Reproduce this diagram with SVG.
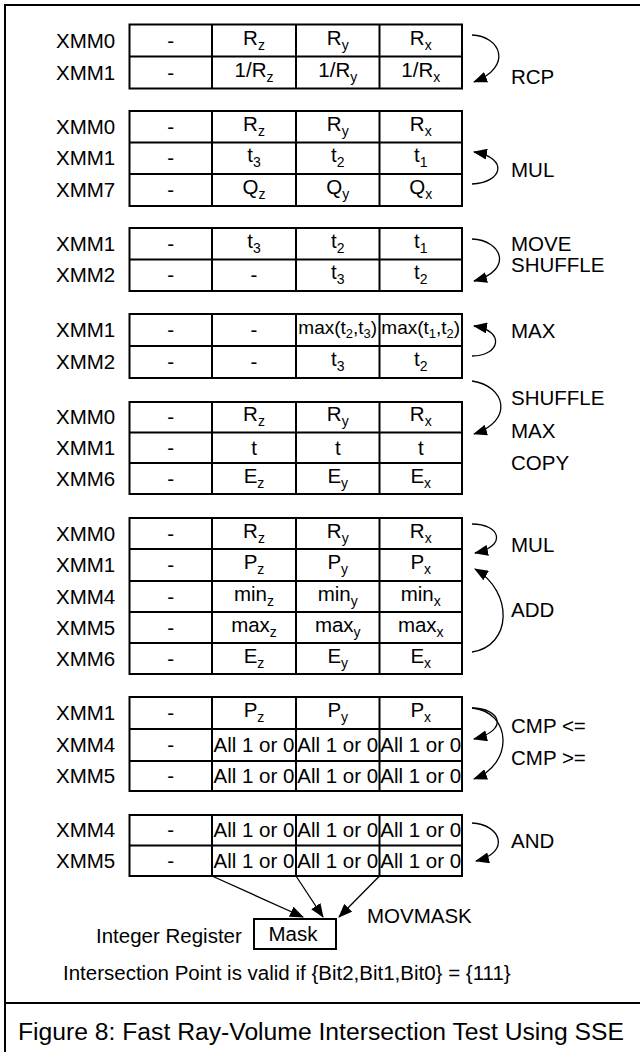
<svg xmlns="http://www.w3.org/2000/svg" width="640" height="1052" viewBox="0 0 640 1052">
<style>
text{font-family:"Liberation Sans",Arial,Helvetica,sans-serif;font-size:20.5px;fill:#000}
.c{text-anchor:middle}
.s{font-size:14px}
.m{font-size:19px}
.m .s{font-size:13px}
.tb{fill:none;stroke:#000;stroke-width:2}
.arc{fill:none;stroke:#000;stroke-width:1.3;marker-end:url(#ah)}
.cap{font-size:24.7px}
</style>
<defs>
<marker id="ah" viewBox="0 0 14 11" refX="13" refY="5.5" markerWidth="14" markerHeight="11" markerUnits="userSpaceOnUse" orient="auto"><path d="M0,0 L14,5.5 L0,11 z" fill="#000"/></marker>
</defs>
<path class="tb" d="M5,1052 V5 H640 M5,1003 H640"/>

<g id="block1">
<rect class="tb" x="129.5" y="24.5" width="332.5" height="64"/>
<path class="tb" d="M129.5,56.5 H462 M212,24.5 V88.5 M296,24.5 V88.5 M379.5,24.5 V88.5"/>
<text x="56" y="47.5">XMM0</text><text x="56" y="79.5">XMM1</text>
<text class="c" x="170.75" y="47.5">-</text>
<text class="c" x="254" y="44.5">R<tspan class="s" dy="5">z</tspan></text>
<text class="c" x="337.75" y="44.5">R<tspan class="s" dy="5">y</tspan></text>
<text class="c" x="420.75" y="44.5">R<tspan class="s" dy="5">x</tspan></text>
<text class="c" x="170.75" y="79.5">-</text>
<text class="c" x="254" y="76.5">1/R<tspan class="s" dy="5">z</tspan></text>
<text class="c" x="337.75" y="76.5">1/R<tspan class="s" dy="5">y</tspan></text>
<text class="c" x="420.75" y="76.5">1/R<tspan class="s" dy="5">x</tspan></text>
</g>

<g id="block2">
<rect class="tb" x="129.5" y="111" width="332.5" height="95"/>
<path class="tb" d="M129.5,142.5 H462 M129.5,174 H462 M212,111 V206 M296,111 V206 M379.5,111 V206"/>
<text x="56" y="133.75">XMM0</text><text x="56" y="165.25">XMM1</text><text x="56" y="197">XMM7</text>
<text class="c" x="170.75" y="133.75">-</text>
<text class="c" x="254" y="130.75">R<tspan class="s" dy="5">z</tspan></text>
<text class="c" x="337.75" y="130.75">R<tspan class="s" dy="5">y</tspan></text>
<text class="c" x="420.75" y="130.75">R<tspan class="s" dy="5">x</tspan></text>
<text class="c" x="170.75" y="165.25">-</text>
<text class="c" x="254" y="162.25">t<tspan class="s" dy="5">3</tspan></text>
<text class="c" x="337.75" y="162.25">t<tspan class="s" dy="5">2</tspan></text>
<text class="c" x="420.75" y="162.25">t<tspan class="s" dy="5">1</tspan></text>
<text class="c" x="170.75" y="197">-</text>
<text class="c" x="254" y="194">Q<tspan class="s" dy="5">z</tspan></text>
<text class="c" x="337.75" y="194">Q<tspan class="s" dy="5">y</tspan></text>
<text class="c" x="420.75" y="194">Q<tspan class="s" dy="5">x</tspan></text>
</g>

<g id="block3">
<rect class="tb" x="129.5" y="228" width="332.5" height="63"/>
<path class="tb" d="M129.5,259.5 H462 M212,228 V291 M296,228 V291 M379.5,228 V291"/>
<text x="56" y="250.75">XMM1</text><text x="56" y="282.25">XMM2</text>
<text class="c" x="170.75" y="250.75">-</text>
<text class="c" x="254" y="247.75">t<tspan class="s" dy="5">3</tspan></text>
<text class="c" x="337.75" y="247.75">t<tspan class="s" dy="5">2</tspan></text>
<text class="c" x="420.75" y="247.75">t<tspan class="s" dy="5">1</tspan></text>
<text class="c" x="170.75" y="282.25">-</text>
<text class="c" x="254" y="282.25">-</text>
<text class="c" x="337.75" y="279.25">t<tspan class="s" dy="5">3</tspan></text>
<text class="c" x="420.75" y="279.25">t<tspan class="s" dy="5">2</tspan></text>
</g>

<g id="block4">
<rect class="tb" x="129.5" y="314" width="332.5" height="64"/>
<path class="tb" d="M129.5,346 H462 M212,314 V378 M296,314 V378 M379.5,314 V378"/>
<text x="56" y="337">XMM1</text><text x="56" y="369">XMM2</text>
<text class="c" x="170.75" y="337">-</text>
<text class="c" x="254" y="337">-</text>
<text class="c m" x="337.75" y="334">max(t<tspan class="s" dy="4">2</tspan><tspan dy="-4">,t</tspan><tspan class="s" dy="4">3</tspan><tspan dy="-4">)</tspan></text>
<text class="c m" x="420.75" y="334">max(t<tspan class="s" dy="4">1</tspan><tspan dy="-4">,t</tspan><tspan class="s" dy="4">2</tspan><tspan dy="-4">)</tspan></text>
<text class="c" x="170.75" y="369">-</text>
<text class="c" x="254" y="369">-</text>
<text class="c" x="337.75" y="366">t<tspan class="s" dy="5">3</tspan></text>
<text class="c" x="420.75" y="366">t<tspan class="s" dy="5">2</tspan></text>
</g>

<g id="block5">
<rect class="tb" x="129.5" y="402" width="332.5" height="92"/>
<path class="tb" d="M129.5,432.5 H462 M129.5,463 H462 M212,402 V494 M296,402 V494 M379.5,402 V494"/>
<text x="56" y="424.25">XMM0</text><text x="56" y="454.75">XMM1</text><text x="56" y="485.5">XMM6</text>
<text class="c" x="170.75" y="424.25">-</text>
<text class="c" x="254" y="421.25">R<tspan class="s" dy="5">z</tspan></text>
<text class="c" x="337.75" y="421.25">R<tspan class="s" dy="5">y</tspan></text>
<text class="c" x="420.75" y="421.25">R<tspan class="s" dy="5">x</tspan></text>
<text class="c" x="170.75" y="454.75">-</text>
<text class="c" x="254" y="454.75">t</text>
<text class="c" x="337.75" y="454.75">t</text>
<text class="c" x="420.75" y="454.75">t</text>
<text class="c" x="170.75" y="485.5">-</text>
<text class="c" x="254" y="482.5">E<tspan class="s" dy="5">z</tspan></text>
<text class="c" x="337.75" y="482.5">E<tspan class="s" dy="5">y</tspan></text>
<text class="c" x="420.75" y="482.5">E<tspan class="s" dy="5">x</tspan></text>
</g>

<g id="block6">
<rect class="tb" x="129.5" y="518" width="332.5" height="156"/>
<path class="tb" d="M129.5,549 H462 M129.5,581 H462 M129.5,612 H462 M129.5,643 H462 M212,518 V674 M296,518 V674 M379.5,518 V674"/>
<text x="56" y="540.5">XMM0</text><text x="56" y="572">XMM1</text><text x="56" y="603.5">XMM4</text><text x="56" y="634.5">XMM5</text><text x="56" y="665.5">XMM6</text>
<text class="c" x="170.75" y="540.5">-</text>
<text class="c" x="254" y="537.5">R<tspan class="s" dy="5">z</tspan></text>
<text class="c" x="337.75" y="537.5">R<tspan class="s" dy="5">y</tspan></text>
<text class="c" x="420.75" y="537.5">R<tspan class="s" dy="5">x</tspan></text>
<text class="c" x="170.75" y="572">-</text>
<text class="c" x="254" y="569">P<tspan class="s" dy="5">z</tspan></text>
<text class="c" x="337.75" y="569">P<tspan class="s" dy="5">y</tspan></text>
<text class="c" x="420.75" y="569">P<tspan class="s" dy="5">x</tspan></text>
<text class="c" x="170.75" y="603.5">-</text>
<text class="c" x="254" y="600.5">min<tspan class="s" dy="5">z</tspan></text>
<text class="c" x="337.75" y="600.5">min<tspan class="s" dy="5">y</tspan></text>
<text class="c" x="420.75" y="600.5">min<tspan class="s" dy="5">x</tspan></text>
<text class="c" x="170.75" y="634.5">-</text>
<text class="c" x="254" y="631.5">max<tspan class="s" dy="5">z</tspan></text>
<text class="c" x="337.75" y="631.5">max<tspan class="s" dy="5">y</tspan></text>
<text class="c" x="420.75" y="631.5">max<tspan class="s" dy="5">x</tspan></text>
<text class="c" x="170.75" y="665.5">-</text>
<text class="c" x="254" y="662.5">E<tspan class="s" dy="5">z</tspan></text>
<text class="c" x="337.75" y="662.5">E<tspan class="s" dy="5">y</tspan></text>
<text class="c" x="420.75" y="662.5">E<tspan class="s" dy="5">x</tspan></text>
</g>

<g id="block7">
<rect class="tb" x="129.5" y="697" width="332.5" height="94"/>
<path class="tb" d="M129.5,729 H462 M129.5,761 H462 M212,697 V791 M296,697 V791 M379.5,697 V791"/>
<text x="56" y="720">XMM1</text><text x="56" y="752">XMM4</text><text x="56" y="783">XMM5</text>
<text class="c" x="170.75" y="720">-</text>
<text class="c" x="254" y="717">P<tspan class="s" dy="5">z</tspan></text>
<text class="c" x="337.75" y="717">P<tspan class="s" dy="5">y</tspan></text>
<text class="c" x="420.75" y="717">P<tspan class="s" dy="5">x</tspan></text>
<text class="c" x="170.75" y="752">-</text>
<text class="c" x="254" y="752">All 1 or 0</text>
<text class="c" x="337.75" y="752">All 1 or 0</text>
<text class="c" x="420.75" y="752">All 1 or 0</text>
<text class="c" x="170.75" y="783">-</text>
<text class="c" x="254" y="783">All 1 or 0</text>
<text class="c" x="337.75" y="783">All 1 or 0</text>
<text class="c" x="420.75" y="783">All 1 or 0</text>
</g>

<g id="block8">
<rect class="tb" x="129.5" y="815" width="332.5" height="61"/>
<path class="tb" d="M129.5,845.5 H462 M212,815 V876 M296,815 V876 M379.5,815 V876"/>
<text x="56" y="837.25">XMM4</text><text x="56" y="867.75">XMM5</text>
<text class="c" x="170.75" y="837.25">-</text>
<text class="c" x="254" y="837.25">All 1 or 0</text>
<text class="c" x="337.75" y="837.25">All 1 or 0</text>
<text class="c" x="420.75" y="837.25">All 1 or 0</text>
<text class="c" x="170.75" y="867.75">-</text>
<text class="c" x="254" y="867.75">All 1 or 0</text>
<text class="c" x="337.75" y="867.75">All 1 or 0</text>
<text class="c" x="420.75" y="867.75">All 1 or 0</text>
</g>

<g id="mask">
<rect class="tb" x="254" y="919" width="82" height="30"/>
<text class="c" x="293" y="941">Mask</text>
<text x="96" y="943">Integer Register</text>
</g>

<g id="connectors">
<path class="arc" d="M472,35 C500,36 514,66 474,82"/>
<path class="arc" d="M472,184 C502,183 510,158 474,152"/>
<path class="arc" d="M472,239 C502,240 514,270 474,281"/>
<path class="arc" d="M472,356 C500,356 506,331 474,326"/>
<path class="arc" d="M472,381 C506,386 514,421 474,434"/>
<path class="arc" d="M472,524 C500,524 508,546 475,553"/>
<path class="arc" d="M472,652 C512,646 514,592 475,569"/>
<path class="arc" d="M472,708 C500,708 510,730 474,739"/>
<path class="arc" d="M472,708 C512,712 514,764 474,779"/>
<path class="arc" d="M472,823 C500,824 512,852 476,861"/>
<path class="arc" d="M212,876 L303,917"/>
<path class="arc" d="M296,876 L323,917"/>
<path class="arc" d="M379.5,876 L339,917"/>
</g>

<g id="labels">
<text x="511" y="84">RCP</text>
<text x="511" y="177">MUL</text>
<text x="511" y="251">MOVE</text>
<text x="511" y="272">SHUFFLE</text>
<text x="511" y="338">MAX</text>
<text x="511" y="405">SHUFFLE</text>
<text x="511" y="438">MAX</text>
<text x="511" y="470">COPY</text>
<text x="511" y="552">MUL</text>
<text x="511" y="617">ADD</text>
<text x="511" y="733">CMP &lt;=</text>
<text x="511" y="765">CMP &gt;=</text>
<text x="511" y="848">AND</text>
<text x="367" y="923">MOVMASK</text>
<text x="63" y="980">Intersection Point is valid if {Bit2,Bit1,Bit0} = {111}</text>
<text class="cap" x="18" y="1040">Figure 8: Fast Ray-Volume Intersection Test Using SSE</text>
</g>
</svg>
